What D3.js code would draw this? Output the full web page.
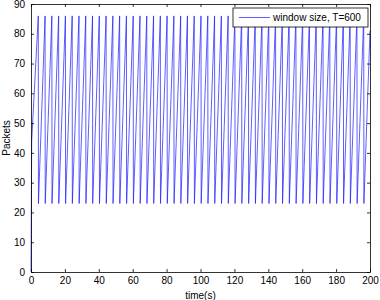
<!DOCTYPE html>
<html><head><meta charset="utf-8">
<script src="https://cdn.jsdelivr.net/npm/d3@7"></script>
<style>body{margin:0;background:#fff}svg{display:block}text{font-family:"Liberation Sans",Arial,sans-serif}</style>
</head><body><svg id="c" width="380" height="300"></svg>
<script>
// data
const xTicks = [0,20,40,60,80,100,120,140,160,180,200];
const yTicks = [0,10,20,30,40,50,60,70,80,90];
const startTimes = [0, 0.4];
const startValues = [0, 44];
const peakTimes = [4.3,8.3,12.3,16.3,20.3,24.3,28.3,32.3,36.3,40.3,44.3,48.3,52.3,56.3,60.3,64.3,68.3,72.3,76.3,80.3,84.3,88.3,92.3,96.3,100.3,104.3,108.3,112.3,116.3,120.3,124.3,128.3,132.3,136.3,140.3,144.3,148.3,152.3,156.3,160.3,164.3,168.3,172.3,176.3,180.3,184.3,188.3,192.3,196.3];
const peakValues = [86];
const troughValues = [23];
const endTime = [200];
const endValue = [81];
const seriesName = "window size, T=600";

const svg = d3.select("#c");
const L=31,R=370,T=4,B=272;
const x = d3.scaleLinear().domain([0,200]).range([L,R]);
const y = d3.scaleLinear().domain([0,90]).range([B,T]);

const pts = [];
startTimes.forEach((t,i)=>pts.push([t,startValues[i]]));
peakTimes.forEach(t=>{pts.push([t,peakValues[0]]);pts.push([t+0.1,troughValues[0]]);});
pts.push([endTime[0],endValue[0]]);

svg.append("rect").attr("x",L).attr("y",T).attr("width",R-L).attr("height",B-T).attr("fill","#fff");

svg.append("path").datum(pts)
  .attr("d",d3.line().x(d=>x(d[0])).y(d=>y(d[1])))
  .attr("fill","none").attr("stroke","#1a1aff").attr("stroke-width",0.7);

// axes (MATLAB style, inward ticks on all sides)
const fs = 10;
const bx = svg.append("g").attr("transform",`translate(0,${B})`)
  .call(d3.axisBottom(x).tickValues(xTicks).tickSizeInner(-3).tickSizeOuter(0).tickPadding(5));
const tx = svg.append("g").attr("transform",`translate(0,${T})`)
  .call(d3.axisTop(x).tickValues(xTicks).tickSizeInner(-3).tickSizeOuter(0).tickFormat(""));
const ly = svg.append("g").attr("transform",`translate(${L},0)`)
  .call(d3.axisLeft(y).tickValues(yTicks).tickSizeInner(-3).tickSizeOuter(0).tickPadding(6));
const ry = svg.append("g").attr("transform",`translate(${R},0)`)
  .call(d3.axisRight(y).tickValues(yTicks).tickSizeInner(-3).tickSizeOuter(0).tickFormat(""));
[bx,tx,ly,ry].forEach(g=>{
  g.selectAll("path").attr("stroke","#000").attr("stroke-width",0.8);
  g.selectAll("line").attr("stroke","#000").attr("stroke-width",0.8);
  g.selectAll("text").attr("font-size",fs).attr("fill","#000").style("font-family","Liberation Sans, Arial, sans-serif");
});

svg.append("text").attr("x",(L+R)/2).attr("y",298.5).attr("text-anchor","middle")
  .attr("font-size",fs).text("time(s)");
svg.append("text").attr("transform",`translate(10,${(T+B)/2}) rotate(-90)`).attr("text-anchor","middle")
  .attr("font-size",fs).text("Packets");

// legend
const lg = svg.append("g");
lg.append("rect").attr("x",233).attr("y",8).attr("width",135).attr("height",19)
  .attr("fill","#fff").attr("stroke","#000").attr("stroke-width",0.8);
lg.append("line").attr("x1",239).attr("x2",270).attr("y1",17.5).attr("y2",17.5)
  .attr("stroke","#1a1aff").attr("stroke-width",0.7);
lg.append("text").attr("x",273).attr("y",21).attr("font-size",fs).text(seriesName);
</script></body></html>
